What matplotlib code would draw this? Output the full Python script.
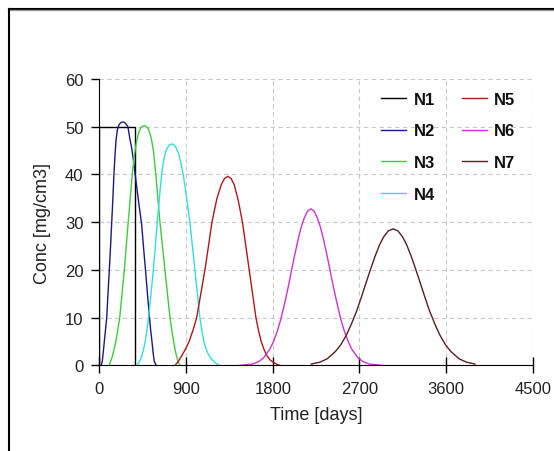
import matplotlib
matplotlib.use("Agg")
import matplotlib.pyplot as plt
from matplotlib.lines import Line2D

plt.rcParams["font.family"] = ["Liberation Sans", "DejaVu Sans"]

# values (time in days, conc in mg/cm3)
n1_t = [0, 0, 365, 365]
n1_c = [0, 50, 50, 0]

n2_t = [18, 30, 40, 55, 75, 88, 102, 115, 127, 139, 150, 161, 171, 185, 202, 225, 247,
        270, 295, 315, 334, 357, 379, 408, 438, 458, 479, 498, 517, 531, 545, 558, 569, 590]
n2_c = [0, 1, 3, 6, 10, 15, 20, 25, 30, 35, 40, 44, 47, 49.3, 50.4, 50.9, 51,
        50.7, 50, 47.5, 45.6, 42.3, 38.6, 34, 29.5, 24.6, 19.7, 15, 10.6, 7.5, 5, 2.5, 0.8, 0]

n3_t = [100, 118, 135, 152, 170, 190, 210, 234, 258, 278, 298, 319, 340, 362, 386, 408, 430, 450, 472,
        494, 515, 538, 560, 585, 606, 628, 654, 680, 706, 732, 752, 770, 785, 800, 818, 836]
n3_c = [0, 1, 2, 3.5, 5, 7.5, 10, 15, 20, 25, 30, 35, 40, 44, 47, 48.8, 49.8, 50.1, 50.2,
        49.9, 49.2, 47.5, 45, 40, 35, 30, 25, 20, 15, 10, 7.3, 5, 3.3, 2, 0.8, 0]

n4_t = [386, 410, 430, 450, 470, 490, 510, 535, 559, 580, 600, 622, 645, 667, 690, 725, 760,
        790, 820, 845, 870, 905, 939, 965, 991, 1017, 1043, 1064, 1085, 1106, 1127, 1160, 1190, 1220, 1251]
n4_c = [0, 0.6, 1.5, 2.8, 4.5, 7, 10, 15, 20, 25, 30, 35, 40, 43, 45, 46.2, 46.4,
        45.8, 44.5, 42.5, 40, 35, 30, 25, 20, 15, 10, 7.2, 5, 3.5, 2.5, 1.4, 0.8, 0.3, 0]

n5_t = [784, 820, 853, 890, 930, 970, 1009, 1052, 1095, 1132, 1168, 1220, 1268, 1300, 1335,
        1368, 1400, 1442, 1485, 1520, 1555, 1590, 1625, 1652, 1680, 1710, 1740, 1775, 1810, 1845, 1880]
n5_c = [0, 0.9, 2, 3.3, 5, 7.3, 10, 15, 20, 25, 30, 35, 38, 39.2, 39.6,
        39.1, 37.8, 34.5, 30, 25, 20, 15, 10, 7.3, 5, 3.3, 2, 1.1, 0.6, 0.2, 0]

n6_t = [1450, 1588, 1652, 1705, 1766, 1805, 1847, 1885, 1924, 1960, 1993, 2026, 2061, 2094, 2125, 2160, 2195,
        2230, 2265, 2296, 2329, 2364, 2397, 2430, 2466, 2505, 2543, 2585, 2624, 2685, 2738, 2802, 2950]
n6_c = [0, 0.3, 0.8, 1.6, 3.3, 4.9, 7.2, 9.8, 13.1, 16.4, 19.7, 23, 26.2, 28.9, 30.8, 32.3, 32.8,
        32.3, 30.8, 28.9, 26.2, 23, 19.7, 16.4, 13.1, 9.8, 7.2, 4.9, 3.3, 1.6, 0.8, 0.3, 0]

n7_t = [2200, 2290, 2365, 2449, 2505, 2563, 2615, 2671, 2720, 2767, 2813, 2863, 2908, 2951, 3001, 3050,
        3099, 3149, 3192, 3237, 3287, 3333, 3380, 3429, 3485, 3537, 3595, 3651, 3735, 3810, 3900]
n7_c = [0.3, 0.7, 1.4, 2.9, 4.3, 6.3, 8.6, 11.4, 14.3, 17.2, 20, 22.9, 25.2, 26.9, 28.2, 28.6,
        28.2, 26.9, 25.2, 22.9, 20, 17.2, 14.3, 11.4, 8.6, 6.3, 4.3, 2.9, 1.4, 0.7, 0.3]

names = ["N1", "N2", "N3", "N4", "N5", "N6", "N7"]
colors = ["#000000", "#1a1a80", "#3ccc3c", "#33dddd", "#b01818", "#cc33cc", "#5a1e1e"]
series = [(n1_t, n1_c), (n2_t, n2_c), (n3_t, n3_c), (n4_t, n4_c),
          (n5_t, n5_c), (n6_t, n6_c), (n7_t, n7_c)]

fig = plt.figure(figsize=(5.54, 4.52), dpi=100)
ax = fig.add_axes([0.1796, 0.1892, 0.782, 0.634])

for name, col, (t, c) in zip(names, colors, series):
    ax.plot(t, c, color=col, lw=1.0, label=name)

ax.set_xlim(0, 4500)
ax.set_ylim(0, 60)
ax.set_xticks([0, 900, 1800, 2700, 3600, 4500])
ax.set_yticks([0, 10, 20, 30, 40, 50, 60])
ax.grid(True, color="#c8c8c8", linestyle=(0, (4, 3)), lw=0.8)
ax.spines["top"].set_visible(False)
ax.spines["right"].set_visible(False)
ax.tick_params(axis="y", direction="out", length=5.5, width=1, labelsize=12,
               labelcolor="#222222", pad=6)
ax.tick_params(axis="x", direction="inout", length=11, width=1, labelsize=12,
               labelcolor="#222222", pad=6)

ax.set_xlabel("Time [days]", fontsize=13, color="#222222", labelpad=7)
ax.set_ylabel("Conc [mg/cm3]", fontsize=13, color="#222222", labelpad=10)

leg = ax.legend(ncol=2, loc="upper left", bbox_to_anchor=(0.65, 0.955),
                frameon=False, borderpad=0, borderaxespad=0,
                handlelength=1.5, handletextpad=0.45, labelspacing=1.0,
                columnspacing=1.6, prop={"weight": "bold", "size": 12})
for txt in leg.get_texts():
    txt.set_color("#111111")

# outer chart frame (top and left edges only show in the crop)
fx = 9 / 554
fy = 1 - 10 / 452
fig.add_artist(Line2D([fx, 1], [fy, fy], color="black", lw=1.5))
fig.add_artist(Line2D([fx, 1], [fy - 0.003, fy - 0.003], color="#999999", lw=1))
fig.add_artist(Line2D([fx, fx], [0, fy], color="black", lw=1.5))

fig.savefig("out.png", dpi=100)
plt.close(fig)
